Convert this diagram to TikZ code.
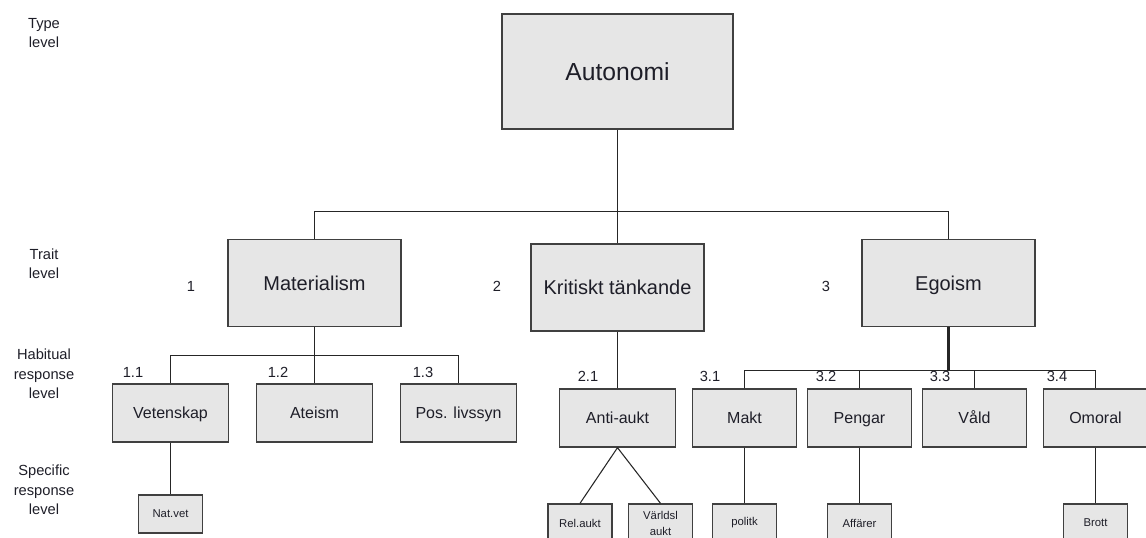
\documentclass[tikz,border=0pt]{standalone}
\usepackage{fontspec}
\setmainfont{Liberation Sans}
\usepackage{tikz}
\definecolor{boxgray}{RGB}{230,230,230}
\definecolor{edgegray}{RGB}{64,64,64}
\definecolor{inkdark}{RGB}{30,30,40}
\tikzstyle{box}=[rectangle,draw=edgegray,fill=boxgray,line width=1pt,
                 text=inkdark,inner sep=2pt,align=center]
\tikzstyle{typebox}=[box,minimum width=173.25pt,minimum height=86.25pt,
                     text height=13.3pt,text depth=0pt,
                     font=\fontsize{18.5}{22}\selectfont]
\tikzstyle{traitbox}=[box,minimum width=129.75pt,minimum height=65.25pt,
                      text height=10.8pt,text depth=0pt,
                      font=\fontsize{15}{18}\selectfont]
\tikzstyle{habbox}=[box,minimum width=86.6pt,minimum height=43.5pt,
                    text height=8.6pt,text depth=0pt,
                    font=\fontsize{12}{14}\selectfont]
\tikzstyle{narrowbox}=[habbox,minimum width=78pt]
\tikzstyle{specbox}=[box,minimum width=48pt,minimum height=28.5pt,
                     font=\fontsize{8.5}{12}\selectfont]
\tikzstyle{levellabel}=[text=inkdark,align=center,
                        font=\fontsize{11}{14.6}\selectfont]
\tikzstyle{numlabel}=[text=inkdark,inner sep=0pt,
                      font=\fontsize{11}{13}\selectfont]
\tikzstyle{wire}=[draw=black!85,line width=0.8pt]

\begin{document}
\begin{tikzpicture}[x=0.75pt,y=-0.75pt]
    \path[use as bounding box,clip] (0,0) rectangle (1146,538);
    % levels
    \node (lvltype)  at (44,33)  [levellabel]{Type\\level};
    \node (lvltrait) at (44,264) [levellabel]{Trait\\level};
    \node (lvlhab)   at (44,374) [levellabel]{Habitual\\response\\level};
    \node (lvlspec)  at (44,490) [levellabel]{Specific\\response\\level};
    % type and traits
    \node (auto) at (617.5,71.5) [typebox]{Autonomi};
    \node (mat)  at (314.5,283.3) [traitbox]{Materialism};
    \node (krit) at (617.5,287.5) [traitbox]{Kritiskt t\"ankande};
    \node (ego)  at (948.5,283.3) [traitbox]{Egoism};
    \node (n1) at (191,286) [numlabel]{1};
    \node (n2) at (497,286) [numlabel]{2};
    \node (n3) at (826,286) [numlabel]{3};
    % habitual responses
    \node (vet)  at (170.5,413)  [habbox]{Vetenskap};
    \node (ate)  at (314.5,413)  [habbox]{Ateism};
    \node (pos)  at (458.5,413)  [habbox]{Pos. livssyn};
    \node (anti) at (617.5,418)  [habbox]{Anti-aukt};
    \node (makt) at (744.5,418)  [narrowbox]{Makt};
    \node (peng) at (859.5,418)  [narrowbox]{Pengar};
    \node (vald) at (974.5,418)  [narrowbox]{V\aa ld};
    \node (omor) at (1095.5,418) [narrowbox]{Omoral};
    \node (n11) at (133,372.5) [numlabel]{1.1};
    \node (n12) at (278,372.5) [numlabel]{1.2};
    \node (n13) at (423,372.5) [numlabel]{1.3};
    \node (n21) at (588,376)   [numlabel]{2.1};
    \node (n31) at (710,376)   [numlabel]{3.1};
    \node (n32) at (826,376)   [numlabel]{3.2};
    \node (n33) at (940,376)   [numlabel]{3.3};
    \node (n34) at (1057,376)  [numlabel]{3.4};
    % specific responses
    \node (natv) at (170.5,514)  [specbox]{Nat.vet};
    \node (rel)  at (580,523)    [specbox]{Rel.aukt};
    \node (varl) at (660.5,523)  [specbox]{V\"arldsl\\aukt};
    \node (polt) at (744.5,523)  [specbox]{politk};
    \node (affr) at (859.5,523)  [specbox]{Aff\"arer};
    \node (brot) at (1095.5,523) [specbox]{Brott};
    % connectors
    \coordinate (topbus) at (617.5,211.5);
    \coordinate (matbus) at (314.5,355.5);
    \coordinate (egobus) at (948.5,370.5);
    \draw[wire] (auto.south) -- (krit.north);
    \draw[wire] (mat.north) |- (topbus) -| (ego.north);
    \draw[wire] (mat.south) -- (ate.north);
    \draw[wire] (vet.north) |- (matbus) -| (pos.north);
    \draw[wire] (krit.south) -- (anti.north);
    \draw[wire,line width=1.6pt] (ego.south) -- (egobus);
    \draw[wire] (makt.north) |- (egobus) -| (omor.north);
    \draw[wire] (peng.north) -- (peng.north |- egobus);
    \draw[wire] (vald.north) -- (vald.north |- egobus);
    \draw[wire] (vet.south) -- (natv.north);
    \draw[wire] (anti.south) -- (rel.north) (anti.south) -- (varl.north);
    \draw[wire] (makt.south) -- (polt.north);
    \draw[wire] (peng.south) -- (affr.north);
    \draw[wire] (omor.south) -- (brot.north);
\end{tikzpicture}
\end{document}
